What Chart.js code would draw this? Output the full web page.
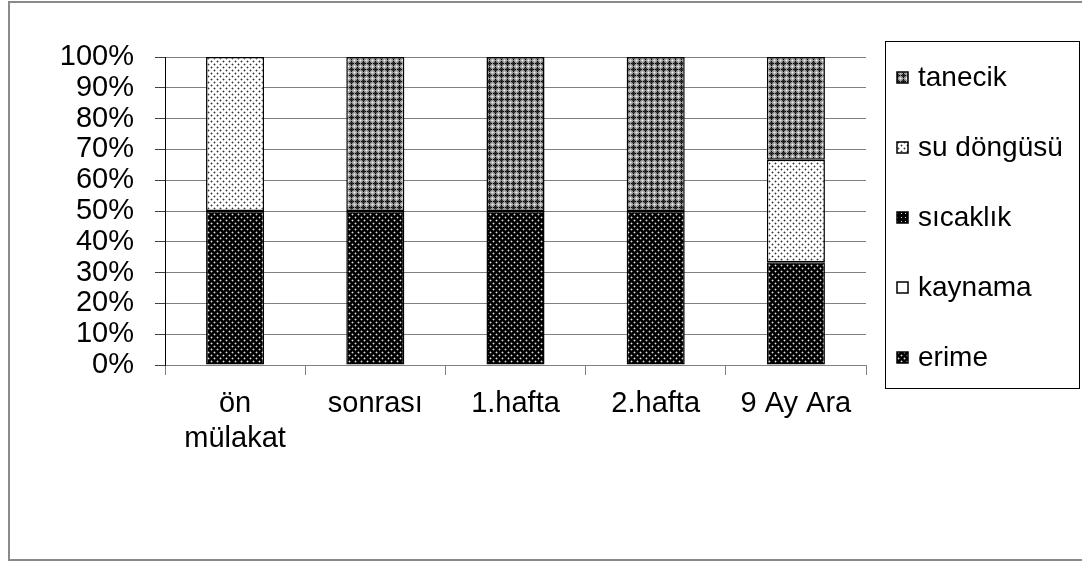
<!DOCTYPE html>
<html>
<head>
<meta charset="utf-8">
<style>
  html, body { margin: 0; padding: 0; background: #fff; }
  #wrap { width: 1082px; height: 562px; }
</style>
<script src="https://cdn.jsdelivr.net/npm/chart.js@4/dist/chart.umd.min.js"></script>
</head>
<body>
<div id="wrap"><canvas id="chart" width="1082" height="562"></canvas></div>
<script>
// Interview stages and the share of answers in each concept category
const categories = [['ön', 'mülakat'], 'sonrası', '1.hafta', '2.hafta', '9 Ay Ara'];
const seriesNames = ['erime', 'kaynama', 'sıcaklık', 'su döngüsü', 'tanecik'];
const erime     = [50, 50, 50, 50, 33.33];
const kaynama   = [0, 0, 0, 0, 0];
const sicaklik  = [0, 0, 0, 0, 0];
const suDongusu = [50, 0, 0, 0, 33.33];
const tanecik   = [0, 50, 50, 50, 33.34];
const yTicks = [0, 10, 20, 30, 40, 50, 60, 70, 80, 90, 100];

const FONT = '"Liberation Sans", Arial, sans-serif';

// Small tiles used as hatch-style fills
function makeTile(size, draw) {
  const c = document.createElement('canvas');
  c.width = size; c.height = size;
  const g = c.getContext('2d');
  draw(g);
  return g.createPattern(c, 'repeat');
}
function px(g, x, y, col) { g.fillStyle = col; g.fillRect(x, y, 1, 1); }

const patErime = makeTile(6, g => {
  g.fillStyle = '#000'; g.fillRect(0, 0, 6, 6);
  [[1, 1], [4, 4]].forEach(([x, y]) => {
    px(g, x, y, '#e0e0e0');
    px(g, x - 1, y, '#555'); px(g, x + 1, y, '#555');
    px(g, x, y - 1, '#555'); px(g, x, y + 1, '#555');
  });
});
const patSu = makeTile(6, g => {
  g.fillStyle = '#fff'; g.fillRect(0, 0, 6, 6);
  [[1, 1], [4, 4]].forEach(([x, y]) => {
    px(g, x, y, '#303030');
    px(g, x - 1, y, '#b0b0b0'); px(g, x + 1, y, '#b0b0b0');
    px(g, x, y - 1, '#b0b0b0'); px(g, x, y + 1, '#b0b0b0');
  });
});
const patSicaklik = makeTile(4, g => {
  g.fillStyle = '#000'; g.fillRect(0, 0, 4, 4);
  px(g, 1, 1, '#ddd');
});
const patTanecik = makeTile(6, g => {
  g.fillStyle = '#9a9a9a'; g.fillRect(0, 0, 6, 6);
  g.fillStyle = '#000';
  g.fillRect(3, 1, 1, 5);
  g.fillRect(1, 3, 5, 1);
  g.fillStyle = '#333';
  g.fillRect(2, 2, 3, 3);
  g.fillStyle = '#000';
  px(g, 3, 3, '#000');
  px(g, 0, 0, '#f0f0f0');
  px(g, 1, 0, '#c8c8c8'); px(g, 5, 0, '#c8c8c8');
  px(g, 0, 1, '#c8c8c8'); px(g, 0, 5, '#c8c8c8');
});

const fills = [patErime, '#ffffff', patSicaklik, patSu, patTanecik];
const values = [erime, kaynama, sicaklik, suDongusu, tanecik];

const datasets = seriesNames.map((name, i) => ({
  label: name,
  data: values[i],
  backgroundColor: fills[i],
  borderColor: '#000',
  borderWidth: 1.5,
  borderSkipped: false,
  categoryPercentage: 1.0,
  barPercentage: 0.414
}));

// Outer frame of the chart object
const framePlugin = {
  id: 'frame',
  beforeDraw(chart) {
    const ctx = chart.ctx;
    ctx.save();
    ctx.fillStyle = '#fff';
    ctx.fillRect(0, 0, chart.width, chart.height);
    ctx.strokeStyle = '#8a8a8a';
    ctx.lineWidth = 2;
    ctx.strokeRect(9, 2, 1100, 558);
    ctx.restore();
  }
};

// Boxed legend on the right, top series first
const boxLegend = {
  id: 'boxLegend',
  afterDraw(chart) {
    const ctx = chart.ctx;
    const box = { x: 885.5, y: 41.5, w: 194, h: 347 };
    ctx.save();
    ctx.strokeStyle = '#000';
    ctx.lineWidth = 1;
    ctx.strokeRect(box.x, box.y, box.w, box.h);
    ctx.font = '28px ' + FONT;
    ctx.textBaseline = 'middle';
    const ds = chart.data.datasets.slice().reverse();
    ds.forEach((d, i) => {
      const cy = 77 + i * 70;
      ctx.fillStyle = d.backgroundColor;
      ctx.fillRect(897, cy - 5, 11, 11);
      ctx.strokeStyle = '#000';
      ctx.lineWidth = 1.5;
      ctx.strokeRect(897, cy - 5, 11, 11);
      ctx.fillStyle = '#000';
      ctx.fillText(d.label, 918, cy + 1);
    });
    ctx.restore();
  }
};

new Chart(document.getElementById('chart'), {
  type: 'bar',
  data: { labels: categories, datasets },
  options: {
    responsive: false,
    animation: false,
    devicePixelRatio: 1,
    layout: { padding: { left: 10, top: 57, right: 216, bottom: 0 } },
    plugins: { legend: { display: false }, tooltip: { enabled: false } },
    scales: {
      x: {
        stacked: true,
        offset: true,
        grid: {
          offset: true,
          drawOnChartArea: false,
          drawTicks: true,
          tickLength: 10,
          color: '#808080',
          lineWidth: 1
        },
        border: { display: true, color: '#808080', width: 1 },
        ticks: {
          color: '#000',
          font: { family: FONT, size: 29, lineHeight: 1.2 },
          padding: 12,
          maxRotation: 0,
          autoSkip: false
        },
        afterFit(scale) { scale.height = 562 - 365; }
      },
      y: {
        stacked: true,
        min: 0,
        max: 100,
        afterBuildTicks(scale) { scale.ticks = yTicks.map(v => ({ value: v })); },
        grid: {
          color: '#808080',
          tickColor: '#404040',
          lineWidth: 1,
          tickLength: 10
        },
        border: { display: true, color: '#000', width: 1 },
        ticks: {
          color: '#000',
          font: { family: FONT, size: 29 },
          padding: 21,
          autoSkip: false,
          callback: v => v + '%'
        },
        afterFit(scale) { scale.width = 155; }
      }
    }
  },
  plugins: [framePlugin, boxLegend]
});
</script>
</body>
</html>
